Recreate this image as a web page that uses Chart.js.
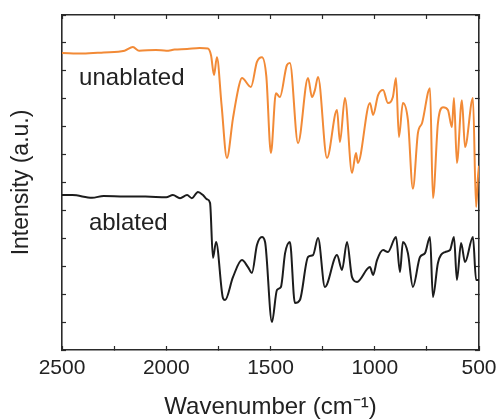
<!DOCTYPE html>
<html>
<head>
<meta charset="utf-8">
<script src="https://cdn.jsdelivr.net/npm/chart.js@4/dist/chart.umd.min.js"></script>
<style>
  html, body { margin: 0; padding: 0; background: #fff; }
  #wrap { width: 500px; height: 419px; }
</style>
</head>
<body>
<div id="wrap"><canvas id="spectra" width="500" height="419"></canvas></div>
<script>
// wavenumber (cm-1) and intensity (a.u.)
const unablatedWn = [2500, 2400, 2300, 2200, 2160, 2130, 2050, 2000, 1960, 1900,
  1840, 1800, 1785, 1771, 1757, 1735, 1709, 1680, 1650, 1637,
  1594, 1565, 1541, 1520, 1498, 1474, 1455, 1421, 1407, 1368,
  1320, 1301, 1287, 1272, 1229, 1181, 1167, 1143, 1109, 1090,
  1081, 1023, 1008, 984, 960, 937, 913, 898, 884, 865,
  841, 817, 793, 773, 735, 721, 697, 673, 649, 630,
  620, 606, 582, 567, 529, 514, 505, 500];
const unablatedVal = [10.64, 10.62, 10.66, 10.72, 10.85, 10.72, 10.75, 10.72, 10.76, 10.78,
  10.82, 10.80, 10.55, 9.85, 10.49, 8.8, 6.88, 8.3, 9.5, 9.74,
  9.42, 10.32, 10.49, 9.8, 7.06, 9.20, 9.06, 10.21, 10.28, 7.41,
  9.74, 9.06, 9.31, 9.78, 6.88, 8.60, 7.45, 9.03, 6.34, 7.06,
  6.70, 8.85, 8.42, 9.13, 9.31, 8.85, 9.06, 9.74, 7.63, 8.85,
  8.24, 5.78, 7.77, 8.13, 9.38, 5.44, 8.13, 8.70, 8.60, 7.99,
  9.03, 6.70, 8.95, 7.27, 9.03, 5.12, 6.2, 6.6];

const ablatedWn = [2500, 2450, 2356, 2300, 2200, 2100, 2000, 1968, 1934, 1900,
  1877, 1848, 1824, 1805, 1790, 1776, 1761, 1728, 1718, 1680,
  1637, 1608, 1589, 1565, 1541, 1526, 1493, 1469, 1450, 1430,
  1407, 1383, 1359, 1320, 1296, 1272, 1239, 1181, 1157, 1133,
  1109, 1085, 1023, 1008, 989, 960, 937, 898, 879, 865,
  841, 817, 783, 759, 735, 721, 697, 663, 639, 620,
  606, 586, 567, 529, 514, 500];
const ablatedVal = [5.55, 5.55, 5.45, 5.52, 5.50, 5.50, 5.47, 5.55, 5.44, 5.55,
  5.44, 5.66, 5.55, 5.40, 5.27, 3.30, 3.87, 1.86, 1.79, 2.61,
  3.22, 2.97, 2.76, 3.76, 4.05, 3.87, 1.00, 2.15, 2.26, 3.47,
  3.87, 1.68, 1.79, 3.33, 3.40, 4.01, 2.26, 3.40, 2.87, 3.87,
  2.61, 2.44, 2.97, 2.69, 3.22, 3.58, 3.51, 4.05, 2.79, 3.87,
  3.47, 2.26, 3.33, 3.47, 4.05, 1.90, 3.12, 3.51, 3.58, 4.05,
  2.51, 3.83, 3.15, 4.05, 2.51, 2.51];

const seriesNames = ['unablated', 'ablated'];
const xTickLabels = [2500, 2000, 1500, 1000, 500];

const FONT = "'Liberation Sans', Arial, sans-serif";
const frame = '#2a2a2a';

function pts(xs, ys) {
  return xs.map((x, i) => ({ x: x, y: ys[i] }));
}

// text labels next to each trace
const curveLabels = {
  id: 'curveLabels',
  afterDatasetsDraw(chart) {
    const { ctx, scales } = chart;
    const spots = [
      { text: seriesNames[0], x: 2418, y: 9.49 },
      { text: seriesNames[1], x: 2371, y: 4.30 }
    ];
    ctx.save();
    ctx.font = '24px ' + FONT;
    ctx.fillStyle = '#222';
    ctx.textBaseline = 'alphabetic';
    ctx.textAlign = 'left';
    spots.forEach(s => {
      ctx.fillText(s.text, scales.x.getPixelForValue(s.x), scales.y.getPixelForValue(s.y));
    });
    ctx.restore();
  }
};

const sideAxis = (pos) => ({
  type: 'linear', position: pos, min: 0, max: 12,
  ticks: { display: false, stepSize: 1 },
  grid: { drawOnChartArea: false, tickLength: -4, tickColor: frame, tickWidth: 1.2 },
  border: { color: frame, width: 1.6 },
  afterFit: s => { s.width = 0; s.paddingTop = 0; s.paddingBottom = 0; }
});

let mychart = new Chart(document.getElementById('spectra'), {
  type: 'line',
  data: {
    datasets: [
      {
        label: seriesNames[0],
        data: pts(unablatedWn, unablatedVal),
        borderColor: '#f28a36',
        borderWidth: 2,
        pointRadius: 0,
        cubicInterpolationMode: 'monotone'
      },
      {
        label: seriesNames[1],
        data: pts(ablatedWn, ablatedVal),
        borderColor: '#1c1c1c',
        borderWidth: 2,
        pointRadius: 0,
        cubicInterpolationMode: 'monotone'
      }
    ]
  },
  options: {
    responsive: false,
    animation: false,
    layout: { padding: { top: 15, right: 21, left: 0, bottom: 0 } },
    plugins: { legend: { display: false }, tooltip: { enabled: false } },
    scales: {
      x: {
        type: 'linear', position: 'bottom', min: 500, max: 2500, reverse: true,
        ticks: {
          stepSize: 250, autoSkip: false, maxRotation: 0, padding: 10,
          color: '#222', font: { family: FONT, size: 21 },
          callback: v => xTickLabels.includes(v) ? String(v) : ''
        },
        grid: { drawOnChartArea: false, tickLength: -4, tickColor: frame, tickWidth: 1.2 },
        border: { color: frame, width: 1.6 },
        title: {
          display: true, text: 'Wavenumber (cm\u207B\u00B9)', color: '#222',
          font: { family: FONT, size: 24, lineHeight: 1 }, padding: { top: 0, bottom: 0 }
        },
        afterFit: s => { s.height = 69; s.paddingLeft = 0; s.paddingRight = 0; }
      },
      x2: {
        type: 'linear', position: 'top', min: 500, max: 2500, reverse: true,
        ticks: { display: false, stepSize: 250 },
        grid: { drawOnChartArea: false, tickLength: -4, tickColor: frame, tickWidth: 1.2 },
        border: { color: frame, width: 1.6 },
        afterFit: s => { s.height = 0; s.paddingLeft = 0; s.paddingRight = 0; }
      },
      y: Object.assign(sideAxis('left'), {
        title: {
          display: true, text: 'Intensity (a.u.)', color: '#222',
          font: { family: FONT, size: 23 }, padding: { top: 8, bottom: 0 }
        },
        afterFit: s => { s.width = 62; s.paddingTop = 0; s.paddingBottom = 0; }
      }),
      y2: sideAxis('right')
    }
  },
  plugins: [curveLabels]
});
</script>
</body>
</html>
